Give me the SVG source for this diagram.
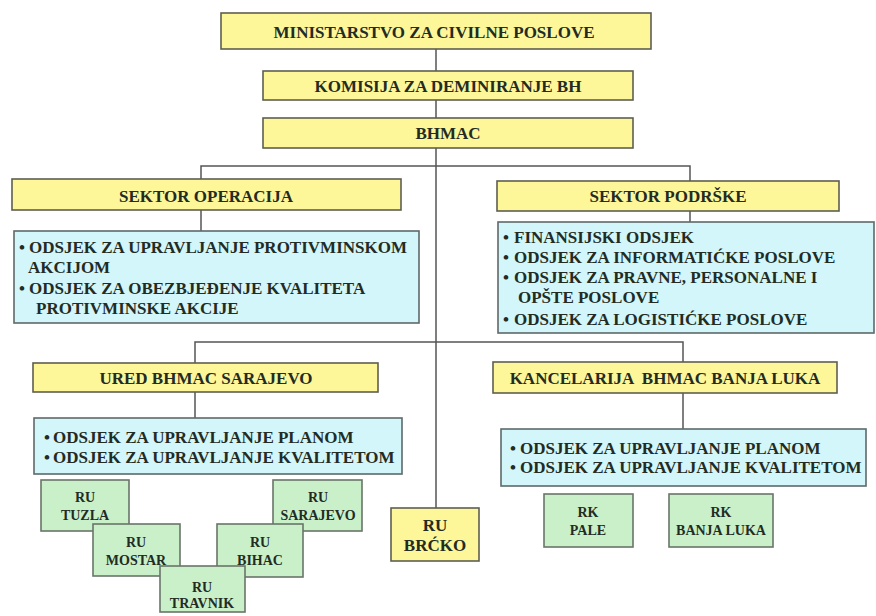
<svg xmlns="http://www.w3.org/2000/svg" width="876" height="616" viewBox="0 0 876 616">
<style>
.y{fill:#fdf79a;stroke:#5e5e50;stroke-width:1.6}
.b{fill:#d2f6fa;stroke:#5e6a6a;stroke-width:1.6}
.g{fill:#c9f0c9;stroke:#6a756a;stroke-width:1.6}
.t{font-family:"Liberation Serif","Times New Roman",serif;font-weight:bold;fill:#232b23}
.h{font-size:17px;text-anchor:middle}
.l{font-size:17px}
.s{font-size:14px;text-anchor:middle}
.c{stroke:#555;stroke-width:1.5;fill:none}
</style>
<rect width="876" height="616" fill="#ffffff"/>
<g id="connectors" class="c">
<line x1="436" y1="49" x2="436" y2="71"/>
<line x1="436" y1="100" x2="436" y2="118"/>
<line x1="436" y1="148" x2="436" y2="508"/>
<polyline points="201,179 201,166 690,166 690,181"/>
<line x1="201" y1="210" x2="201" y2="231"/>
<line x1="690" y1="211" x2="690" y2="222"/>
<polyline points="195,363 195,342 683,342 683,362"/>
<line x1="195" y1="392" x2="195" y2="418"/>
<line x1="683" y1="393" x2="683" y2="429"/>
</g>
<g id="ministarstvo"><rect class="y" x="221" y="13" width="430" height="36"/><text class="t h" x="434" y="38">MINISTARSTVO ZA CIVILNE POSLOVE</text></g>
<g id="komisija"><rect class="y" x="263" y="71" width="370" height="29"/><text class="t h" x="448" y="92">KOMISIJA ZA DEMINIRANJE BH</text></g>
<g id="bhmac"><rect class="y" x="263" y="118" width="370" height="30"/><text class="t h" x="448" y="139">BHMAC</text></g>
<g id="sektor-operacija"><rect class="y" x="12" y="179" width="389" height="31"/><text class="t h" x="206" y="202">SEKTOR OPERACIJA</text></g>
<g id="operacija-odsjeci"><rect class="b" x="14" y="231" width="405" height="92"/>
<text class="t l"><tspan x="19" y="253">•</tspan><tspan x="29" y="253">ODSJEK ZA UPRAVLJANJE PROTIVMINSKOM</tspan><tspan x="28" y="273">AKCIJOM</tspan><tspan x="19" y="294">•</tspan><tspan x="29" y="294">ODSJEK ZA OBEZBJEĐENJE KVALITETA</tspan><tspan x="36" y="314">PROTIVMINSKE AKCIJE</tspan></text></g>
<g id="sektor-podrske"><rect class="y" x="497" y="181" width="342" height="30"/><text class="t h" x="668" y="202">SEKTOR PODRŠKE</text></g>
<g id="podrska-odsjeci"><rect class="b" x="498" y="222" width="376" height="111"/>
<text class="t l"><tspan x="503" y="243">•</tspan><tspan x="514" y="243">FINANSIJSKI ODSJEK</tspan><tspan x="503" y="263">•</tspan><tspan x="514" y="263">ODSJEK ZA INFORMATIĆKE POSLOVE</tspan><tspan x="503" y="283">•</tspan><tspan x="514" y="283">ODSJEK ZA PRAVNE, PERSONALNE I</tspan><tspan x="518" y="303">OPŠTE POSLOVE</tspan><tspan x="503" y="325">•</tspan><tspan x="514" y="325">ODSJEK ZA LOGISTIĆKE POSLOVE</tspan></text></g>
<g id="ured-sarajevo"><rect class="y" x="33" y="363" width="345" height="29"/><text class="t h" x="206" y="384">URED BHMAC SARAJEVO</text></g>
<g id="sarajevo-odsjeci"><rect class="b" x="34" y="418" width="368" height="56"/>
<text class="t l"><tspan x="44" y="443">•</tspan><tspan x="53" y="443">ODSJEK ZA UPRAVLJANJE PLANOM</tspan><tspan x="44" y="463">•</tspan><tspan x="53" y="463">ODSJEK ZA UPRAVLJANJE KVALITETOM</tspan></text></g>
<g id="kancelarija-banja-luka"><rect class="y" x="493" y="362" width="344" height="31"/><text class="t h" x="665" y="384" xml:space="preserve">KANCELARIJA  BHMAC BANJA LUKA</text></g>
<g id="banja-luka-odsjeci"><rect class="b" x="501" y="429" width="365" height="57"/>
<text class="t l"><tspan x="510" y="454">•</tspan><tspan x="520" y="454">ODSJEK ZA UPRAVLJANJE PLANOM</tspan><tspan x="510" y="473">•</tspan><tspan x="520" y="473">ODSJEK ZA UPRAVLJANJE KVALITETOM</tspan></text></g>
<g id="ru-tuzla"><rect class="g" x="41" y="480" width="88" height="51"/><text class="t s"><tspan x="85" y="502">RU</tspan><tspan x="85" y="520">TUZLA</tspan></text></g>
<g id="ru-sarajevo"><rect class="g" x="273" y="480" width="89" height="51"/><text class="t s"><tspan x="318" y="502">RU</tspan><tspan x="318" y="520">SARAJEVO</tspan></text></g>
<g id="ru-mostar"><rect class="g" x="93" y="524" width="87" height="52"/><text class="t s"><tspan x="136" y="547">RU</tspan><tspan x="136" y="565">MOSTAR</tspan></text></g>
<g id="ru-bihac"><rect class="g" x="217" y="524" width="86" height="53"/><text class="t s"><tspan x="260" y="547">RU</tspan><tspan x="260" y="565">BIHAC</tspan></text></g>
<g id="ru-travnik"><rect class="g" x="160" y="566" width="85" height="46"/><text class="t s"><tspan x="202" y="592">RU</tspan><tspan x="202" y="608">TRAVNIK</tspan></text></g>
<g id="ru-brcko"><rect class="y" x="391" y="508" width="88" height="53"/><text class="t h"><tspan x="435" y="531">RU</tspan><tspan x="435" y="551">BRĆKO</tspan></text></g>
<g id="rk-pale"><rect class="g" x="544" y="494" width="89" height="53"/><text class="t s"><tspan x="588" y="517">RK</tspan><tspan x="588" y="535">PALE</tspan></text></g>
<g id="rk-banja-luka"><rect class="g" x="669" y="494" width="104" height="53"/><text class="t s"><tspan x="721" y="517">RK</tspan><tspan x="721" y="535">BANJA LUKA</tspan></text></g>
</svg>
